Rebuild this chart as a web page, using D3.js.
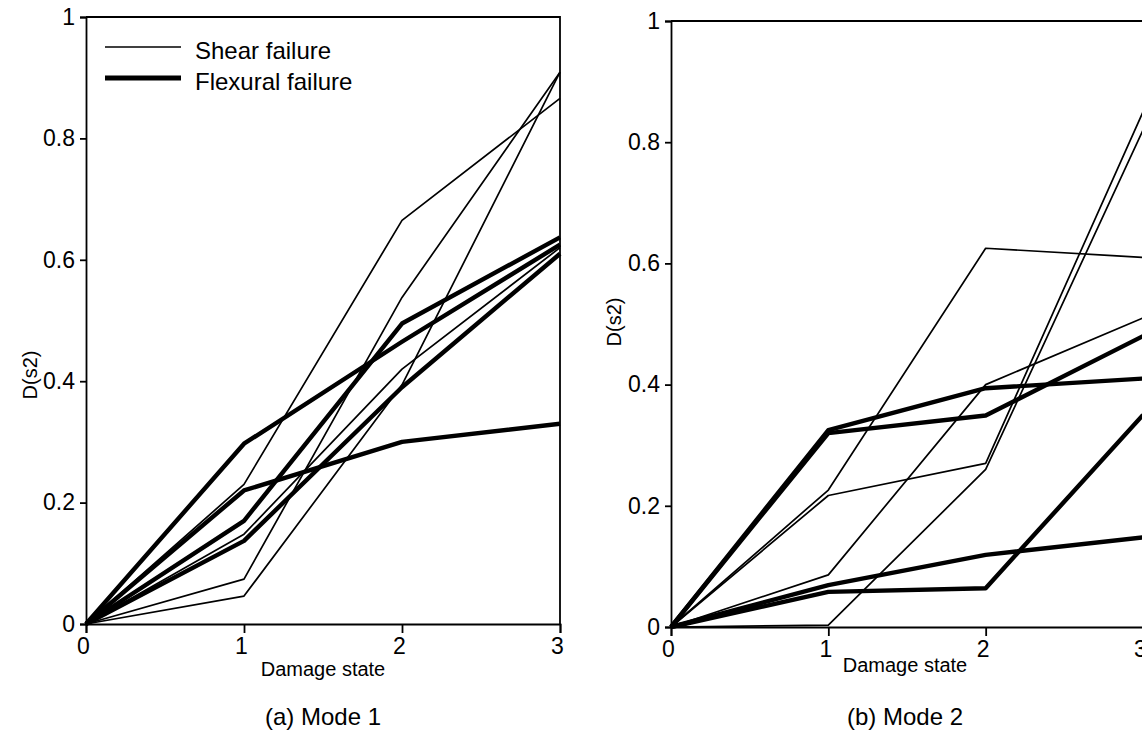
<!DOCTYPE html>
<html><head><meta charset="utf-8">
<script src="https://cdn.jsdelivr.net/npm/d3@7/dist/d3.min.js"></script>
<style>
body{margin:0;background:#fff;}
text{font-family:"Liberation Sans",Arial,Helvetica,sans-serif;fill:#000;}
</style></head>
<body><svg id="chart" width="1142" height="751"></svg>
<script>
const damageStates = [0, 1, 2, 3];
const yTicks = [0, 0.2, 0.4, 0.6, 0.8, 1];
const yTickLabels = ["0", "0.2", "0.4", "0.6", "0.8", "1"];
const xTickLabels = ["0", "1", "2", "3"];

// Mode 1
const mode1Shear = [
  [0, 0.23, 0.665, 0.866],
  [0, 0.074, 0.538, 0.909],
  [0, 0.046, 0.394, 0.909],
  [0, 0.148, 0.42, 0.62]
];
const mode1Flexural = [
  [0, 0.297, 0.465, 0.625],
  [0, 0.22, 0.30, 0.33],
  [0, 0.17, 0.495, 0.637],
  [0, 0.137, 0.39, 0.61]
];
// Mode 2
const mode2Shear = [
  [0, 0.226, 0.625, 0.61],
  [0, 0.217, 0.27, 0.85],
  [0, 0.003, 0.26, 0.82],
  [0, 0.086, 0.40, 0.51]
];
const mode2Flexural = [
  [0, 0.325, 0.394, 0.41],
  [0, 0.32, 0.349, 0.48],
  [0, 0.069, 0.119, 0.148],
  [0, 0.058, 0.064, 0.35]
];

const legendLabels = ["Shear failure", "Flexural failure"];
const xTitle = "Damage state";
const yTitle = "D(s2)";
const captions = ["(a) Mode 1", "(b) Mode 2"];

const svg = d3.select("#chart");

function panel(cfg) {
  const x = d3.scaleLinear().domain([0, 3]).range([cfg.x0, cfg.x1]);
  const y = d3.scaleLinear().domain([0, 1]).range([cfg.y0, cfg.y1]);
  const g = svg.append("g");

  g.append("path")
    .attr("d", `M${x(0)},${y(1)}H${x(3)}V${y(0)}`)
    .attr("fill", "none").attr("stroke", "#000").attr("stroke-width", 1.8);

  const yAxis = d3.axisLeft(y).tickValues(yTicks)
    .tickFormat((d, i) => yTickLabels[i]).tickSize(6).tickPadding(5);
  const ya = g.append("g").attr("transform", `translate(${x(0)},0)`).call(yAxis);
  ya.select(".domain").attr("stroke-width", 1.8);
  ya.selectAll(".tick line").attr("stroke-width", 1.8);
  ya.selectAll("text").style("font-size", "23px");

  const xAxis = d3.axisBottom(x).tickValues(damageStates)
    .tickFormat((d, i) => xTickLabels[i]).tickSize(9).tickPadding(5);
  const xa = g.append("g").attr("transform", `translate(0,${y(0)})`).call(xAxis);
  xa.select(".domain").attr("stroke-width", 1.8);
  xa.selectAll(".tick line").attr("stroke-width", 1.8);
  xa.selectAll("text").style("font-size", "23px").attr("dx", -3);

  const line = d3.line().x((d, i) => x(damageStates[i])).y(d => y(d));
  g.selectAll(".shear").data(cfg.shear).enter().append("path")
    .attr("d", line).attr("fill", "none").attr("stroke", "#000")
    .attr("stroke-width", 1.7).attr("stroke-linejoin", "round");
  g.selectAll(".flex").data(cfg.flex).enter().append("path")
    .attr("d", line).attr("fill", "none").attr("stroke", "#000")
    .attr("stroke-width", 4.4).attr("stroke-linejoin", "round");

  g.append("text").attr("x", cfg.xTitleX).attr("y", cfg.xTitleY)
    .attr("text-anchor", "middle").style("font-size", "20px").text(xTitle);
  g.append("text").attr("x", cfg.xTitleX).attr("y", cfg.captionY)
    .attr("text-anchor", "middle").style("font-size", "24px").text(cfg.caption);
  g.append("text")
    .attr("transform", `translate(${cfg.yTitleX},${cfg.yTitleY}) rotate(-90)`)
    .attr("text-anchor", "middle").style("font-size", "20px").text(yTitle);
  return { x, y, g };
}

panel({
  x0: 86, x1: 560, y0: 624, y1: 17,
  shear: mode1Shear, flex: mode1Flexural,
  xTitleX: 323, xTitleY: 676, captionY: 725, caption: captions[0],
  yTitleX: 37, yTitleY: 375
});
panel({
  x0: 671, x1: 1143, y0: 627, y1: 21,
  shear: mode2Shear, flex: mode2Flexural,
  xTitleX: 905, xTitleY: 672, captionY: 725, caption: captions[1],
  yTitleX: 621, yTitleY: 322
});

// legend (left panel)
const leg = svg.append("g");
const legItems = [{ label: legendLabels[0], w: 1.7, y: 47 }, { label: legendLabels[1], w: 5, y: 78 }];
legItems.forEach(it => {
  leg.append("line").attr("x1", 105).attr("x2", 181).attr("y1", it.y).attr("y2", it.y)
    .attr("stroke", "#000").attr("stroke-width", it.w);
  leg.append("text").attr("x", 195).attr("y", it.y + 12).style("font-size", "24px").text(it.label);
});
</script></body></html>
